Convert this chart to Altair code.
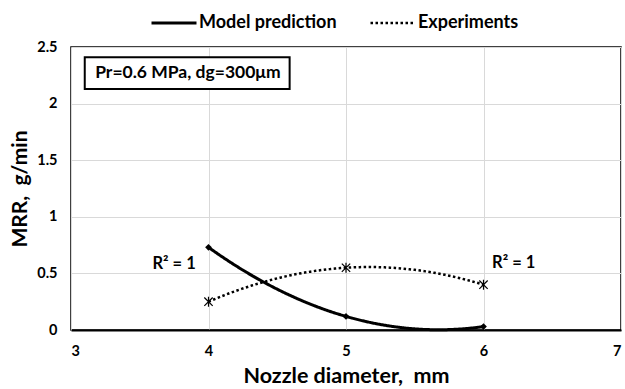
import altair as alt
import pandas as pd

nozzle_mm = [4, 5, 6]
model_mrr = [0.73, 0.12, 0.03]
exp_mrr = [0.25, 0.55, 0.40]
series_names = ["Model prediction", "Experiments"]
x_ticks = [3, 4, 5, 6, 7]
y_ticks = [0, 0.5, 1, 1.5, 2, 2.5]
box_text = ["Pr=0.6 MPa, dg=300μm"]
r2_labels = ["R² = 1", "R² = 1"]

df = pd.DataFrame({
    "d": nozzle_mm + nozzle_mm,
    "MRR": model_mrr + exp_mrr,
    "series": [series_names[0]] * 3 + [series_names[1]] * 3,
})

FONT = "Lato"
NB = "\u00a0"

xenc = alt.X("d:Q", scale=alt.Scale(domain=[3, 7], nice=False, zero=False),
             axis=alt.Axis(values=x_ticks, title="Nozzle diameter," + NB + NB + "mm",
                           format="d", labelPadding=14, titlePadding=8, domain=True,
                           domainColor="black", domainWidth=2,
                           titleFontSize=21.5))
yenc = alt.Y("MRR:Q", scale=alt.Scale(domain=[0, 2.5], nice=False),
             axis=alt.Axis(values=y_ticks, title="MRR," + NB + NB + "g/min",
                           format=".1~f", labelPadding=14, titlePadding=6,
                           domain=False, titleFontSize=21))

lines = alt.Chart(df).transform_regression(
    "d", "MRR", groupby=["series"], method="poly", order=2, extent=[4, 6]
).mark_line(color="black").encode(
    x=xenc, y=yenc,
    strokeDash=alt.StrokeDash(
        "series:N",
        scale=alt.Scale(domain=series_names, range=[[1, 0], [2.5, 2.5]]),
        legend=alt.Legend(
            orient="none", legendX=79, legendY=-48, direction="horizontal",
            title=None, symbolType="stroke", symbolSize=2025,
            symbolStrokeWidth=3, symbolStrokeColor="black",
            labelFont=FONT, labelFontSize=18, labelFontWeight="bold",
            labelColor="black", columnPadding=28, labelOffset=1,
        ),
    ),
    strokeWidth=alt.StrokeWidth("series:N",
                                scale=alt.Scale(domain=series_names, range=[3, 2.5]),
                                legend=None),
)

model_pts = alt.Chart(df).transform_filter(
    alt.datum.series == series_names[0]
).mark_point(shape="diamond", filled=True, size=45, color="black", opacity=1).encode(
    x=xenc, y=yenc)

exp_pts = alt.Chart(df).transform_filter(
    alt.datum.series == series_names[1]
).mark_point(shape="M-1,-1L1,1M-1,1L1,-1M0,-1.2L0,1.2", filled=False, size=70,
             strokeWidth=1.2, color="black", opacity=1).encode(x=xenc, y=yenc)

box_df = pd.DataFrame({"x": [3.10], "x2": [4.59], "y": [2.13], "y2": [2.41],
                       "xt": [3.85], "yt": [2.27], "label": box_text})
box = alt.Chart(box_df).mark_rect(fill="white", stroke="black", strokeWidth=2).encode(
    x="x:Q", x2="x2:Q", y="y:Q", y2="y2:Q")
box_lbl = alt.Chart(box_df).mark_text(font=FONT, fontSize=17.5, fontWeight="bold",
                                      color="black").encode(
    x="xt:Q", y="yt:Q", text="label:N")

r2_df = pd.DataFrame({"x": [3.75, 6.22], "y": [0.58, 0.59], "label": r2_labels})
r2 = alt.Chart(r2_df).mark_text(font=FONT, fontSize=16.5, fontWeight="bold",
                                color="black").encode(
    x="x:Q", y="y:Q", text="label:N")

chart = alt.layer(box, box_lbl, lines, model_pts, exp_pts, r2).properties(
    width=550, height=283,
    background="white",
    autosize=alt.AutoSizeParams(type="none"),
    padding={"left": 71, "top": 47, "right": 4, "bottom": 59},
).configure_view(stroke="black", strokeWidth=1.5).configure_axis(
    labelFont=FONT, labelFontSize=14.5, labelFontWeight="bold", labelColor="black",
    titleFont=FONT, titleFontSize=20, titleFontWeight="bold", titleColor="black",
    ticks=False, gridColor="#d9d9d9", gridWidth=1,
)

chart.save("out.html", embed_options={"renderer": "svg", "actions": False})
